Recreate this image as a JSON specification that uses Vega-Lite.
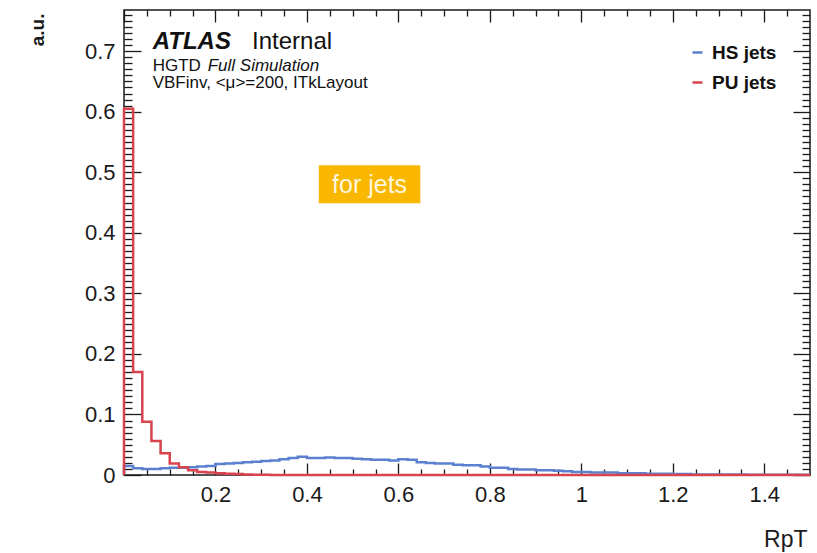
{
  "$schema": "https://vega.github.io/schema/vega-lite/v6.json",
  "width": 686,
  "height": 465,
  "autosize": {"type": "none"},
  "padding": {"left": 124, "top": 10, "right": 7, "bottom": 78},
  "background": "white",
  "config": {
    "view": {"stroke": "#1a1a1a", "strokeWidth": 1.5},
    "font": "Liberation Sans",
    "axis": {"grid": false, "domain": false, "tickColor": "#1a1a1a", "tickWidth": 1.3, "labelFont": "Liberation Sans", "labelFontSize": 22, "labelColor": "#1a1a1a", "titleColor": "#1a1a1a", "titleFont": "Liberation Sans"},
    "legend": {"orient": "top-right", "offset": 33, "symbolType": "stroke", "symbolSize": 100, "symbolStrokeWidth": 2.5, "labelFont": "Liberation Sans", "labelFontSize": 19, "labelFontWeight": "bold", "labelColor": "#111111", "rowPadding": 10, "labelOffset": 5, "padding": 0}
  },
  "resolve": {"axis": {"x": "independent", "y": "independent"}},
  "layer": [
    {
      "data": {"values": [
        {"series": "HS jets", "i": 0, "x": 0, "y": 0},
        {"series": "HS jets", "i": 1, "x": 0.00, "y": 0.015},
        {"series": "HS jets", "i": 2, "x": 0.02, "y": 0.011},
        {"series": "HS jets", "i": 3, "x": 0.04, "y": 0.010},
        {"series": "HS jets", "i": 4, "x": 0.06, "y": 0.010},
        {"series": "HS jets", "i": 5, "x": 0.08, "y": 0.011},
        {"series": "HS jets", "i": 6, "x": 0.10, "y": 0.012},
        {"series": "HS jets", "i": 7, "x": 0.12, "y": 0.012},
        {"series": "HS jets", "i": 8, "x": 0.14, "y": 0.013},
        {"series": "HS jets", "i": 9, "x": 0.16, "y": 0.014},
        {"series": "HS jets", "i": 10, "x": 0.18, "y": 0.015},
        {"series": "HS jets", "i": 11, "x": 0.20, "y": 0.018},
        {"series": "HS jets", "i": 12, "x": 0.22, "y": 0.019},
        {"series": "HS jets", "i": 13, "x": 0.24, "y": 0.020},
        {"series": "HS jets", "i": 14, "x": 0.26, "y": 0.021},
        {"series": "HS jets", "i": 15, "x": 0.28, "y": 0.022},
        {"series": "HS jets", "i": 16, "x": 0.30, "y": 0.023},
        {"series": "HS jets", "i": 17, "x": 0.32, "y": 0.024},
        {"series": "HS jets", "i": 18, "x": 0.34, "y": 0.026},
        {"series": "HS jets", "i": 19, "x": 0.36, "y": 0.028},
        {"series": "HS jets", "i": 20, "x": 0.38, "y": 0.030},
        {"series": "HS jets", "i": 21, "x": 0.40, "y": 0.028},
        {"series": "HS jets", "i": 22, "x": 0.42, "y": 0.028},
        {"series": "HS jets", "i": 23, "x": 0.44, "y": 0.029},
        {"series": "HS jets", "i": 24, "x": 0.46, "y": 0.028},
        {"series": "HS jets", "i": 25, "x": 0.48, "y": 0.028},
        {"series": "HS jets", "i": 26, "x": 0.50, "y": 0.027},
        {"series": "HS jets", "i": 27, "x": 0.52, "y": 0.026},
        {"series": "HS jets", "i": 28, "x": 0.54, "y": 0.025},
        {"series": "HS jets", "i": 29, "x": 0.56, "y": 0.025},
        {"series": "HS jets", "i": 30, "x": 0.58, "y": 0.024},
        {"series": "HS jets", "i": 31, "x": 0.60, "y": 0.026},
        {"series": "HS jets", "i": 32, "x": 0.62, "y": 0.025},
        {"series": "HS jets", "i": 33, "x": 0.64, "y": 0.021},
        {"series": "HS jets", "i": 34, "x": 0.66, "y": 0.020},
        {"series": "HS jets", "i": 35, "x": 0.68, "y": 0.019},
        {"series": "HS jets", "i": 36, "x": 0.70, "y": 0.019},
        {"series": "HS jets", "i": 37, "x": 0.72, "y": 0.017},
        {"series": "HS jets", "i": 38, "x": 0.74, "y": 0.016},
        {"series": "HS jets", "i": 39, "x": 0.76, "y": 0.016},
        {"series": "HS jets", "i": 40, "x": 0.78, "y": 0.014},
        {"series": "HS jets", "i": 41, "x": 0.80, "y": 0.012},
        {"series": "HS jets", "i": 42, "x": 0.82, "y": 0.012},
        {"series": "HS jets", "i": 43, "x": 0.84, "y": 0.010},
        {"series": "HS jets", "i": 44, "x": 0.86, "y": 0.009},
        {"series": "HS jets", "i": 45, "x": 0.88, "y": 0.009},
        {"series": "HS jets", "i": 46, "x": 0.90, "y": 0.008},
        {"series": "HS jets", "i": 47, "x": 0.92, "y": 0.008},
        {"series": "HS jets", "i": 48, "x": 0.94, "y": 0.007},
        {"series": "HS jets", "i": 49, "x": 0.96, "y": 0.006},
        {"series": "HS jets", "i": 50, "x": 0.98, "y": 0.005},
        {"series": "HS jets", "i": 51, "x": 1.00, "y": 0.005},
        {"series": "HS jets", "i": 52, "x": 1.02, "y": 0.004},
        {"series": "HS jets", "i": 53, "x": 1.04, "y": 0.004},
        {"series": "HS jets", "i": 54, "x": 1.06, "y": 0.004},
        {"series": "HS jets", "i": 55, "x": 1.08, "y": 0.003},
        {"series": "HS jets", "i": 56, "x": 1.10, "y": 0.003},
        {"series": "HS jets", "i": 57, "x": 1.12, "y": 0.003},
        {"series": "HS jets", "i": 58, "x": 1.14, "y": 0.002},
        {"series": "HS jets", "i": 59, "x": 1.16, "y": 0.002},
        {"series": "HS jets", "i": 60, "x": 1.18, "y": 0.002},
        {"series": "HS jets", "i": 61, "x": 1.20, "y": 0.0015},
        {"series": "HS jets", "i": 62, "x": 1.22, "y": 0.0015},
        {"series": "HS jets", "i": 63, "x": 1.24, "y": 0.001},
        {"series": "HS jets", "i": 64, "x": 1.26, "y": 0.001},
        {"series": "HS jets", "i": 65, "x": 1.28, "y": 0.001},
        {"series": "HS jets", "i": 66, "x": 1.30, "y": 0.001},
        {"series": "HS jets", "i": 67, "x": 1.32, "y": 0.0008},
        {"series": "HS jets", "i": 68, "x": 1.34, "y": 0.0008},
        {"series": "HS jets", "i": 69, "x": 1.36, "y": 0.0006},
        {"series": "HS jets", "i": 70, "x": 1.38, "y": 0.0006},
        {"series": "HS jets", "i": 71, "x": 1.40, "y": 0.0005},
        {"series": "HS jets", "i": 72, "x": 1.42, "y": 0.0005},
        {"series": "HS jets", "i": 73, "x": 1.44, "y": 0.0004},
        {"series": "HS jets", "i": 74, "x": 1.46, "y": 0.0004},
        {"series": "HS jets", "i": 75, "x": 1.48, "y": 0.0003},
        {"series": "HS jets", "i": 76, "x": 1.50, "y": 0.0003},
        {"series": "PU jets", "i": 0, "x": 0, "y": 0},
        {"series": "PU jets", "i": 1, "x": 0.00, "y": 0.605},
        {"series": "PU jets", "i": 2, "x": 0.02, "y": 0.170},
        {"series": "PU jets", "i": 3, "x": 0.04, "y": 0.088},
        {"series": "PU jets", "i": 4, "x": 0.06, "y": 0.056},
        {"series": "PU jets", "i": 5, "x": 0.08, "y": 0.036},
        {"series": "PU jets", "i": 6, "x": 0.10, "y": 0.019},
        {"series": "PU jets", "i": 7, "x": 0.12, "y": 0.013},
        {"series": "PU jets", "i": 8, "x": 0.14, "y": 0.008},
        {"series": "PU jets", "i": 9, "x": 0.16, "y": 0.005},
        {"series": "PU jets", "i": 10, "x": 0.18, "y": 0.004},
        {"series": "PU jets", "i": 11, "x": 0.20, "y": 0.003},
        {"series": "PU jets", "i": 12, "x": 0.22, "y": 0.002},
        {"series": "PU jets", "i": 13, "x": 0.24, "y": 0.0015},
        {"series": "PU jets", "i": 14, "x": 0.26, "y": 0.001},
        {"series": "PU jets", "i": 15, "x": 0.28, "y": 0.0006},
        {"series": "PU jets", "i": 16, "x": 0.30, "y": 0.0004},
        {"series": "PU jets", "i": 17, "x": 0.32, "y": 0.0002},
        {"series": "PU jets", "i": 18, "x": 0.34, "y": 0.0001},
        {"series": "PU jets", "i": 19, "x": 0.36, "y": 0},
        {"series": "PU jets", "i": 20, "x": 0.38, "y": 0},
        {"series": "PU jets", "i": 21, "x": 0.40, "y": 0},
        {"series": "PU jets", "i": 22, "x": 0.42, "y": 0},
        {"series": "PU jets", "i": 23, "x": 0.44, "y": 0},
        {"series": "PU jets", "i": 24, "x": 0.46, "y": 0},
        {"series": "PU jets", "i": 25, "x": 0.48, "y": 0},
        {"series": "PU jets", "i": 26, "x": 0.50, "y": 0},
        {"series": "PU jets", "i": 27, "x": 0.60, "y": 0},
        {"series": "PU jets", "i": 28, "x": 0.70, "y": 0},
        {"series": "PU jets", "i": 29, "x": 0.80, "y": 0},
        {"series": "PU jets", "i": 30, "x": 0.90, "y": 0},
        {"series": "PU jets", "i": 31, "x": 1.00, "y": 0},
        {"series": "PU jets", "i": 32, "x": 1.10, "y": 0},
        {"series": "PU jets", "i": 33, "x": 1.20, "y": 0},
        {"series": "PU jets", "i": 34, "x": 1.30, "y": 0},
        {"series": "PU jets", "i": 35, "x": 1.40, "y": 0},
        {"series": "PU jets", "i": 36, "x": 1.50, "y": 0}
      ]},
      "mark": {"type": "line", "interpolate": "step-after", "strokeWidth": 2.5},
      "encoding": {
        "x": {"field": "x", "type": "quantitative", "scale": {"domain": [0, 1.5], "nice": false, "zero": false},
          "axis": {"orient": "bottom", "values": [0, 0.2, 0.4, 0.6, 0.8, 1, 1.2, 1.4], "format": "~g", "labelExpr": "datum.value == 0 ? '' : datum.label", "tickSize": -12, "labelPadding": 21,
            "title": "RpT", "titleFontSize": 23, "titleFontWeight": "normal", "titleAlign": "right", "titleBaseline": "alphabetic", "titleX": 683, "titleY": 71}},
        "y": {"field": "y", "type": "quantitative", "scale": {"domain": [0, 0.768], "nice": false},
          "axis": {"orient": "left", "values": [0, 0.1, 0.2, 0.3, 0.4, 0.5, 0.6, 0.7], "format": "~g", "tickSize": -17, "labelPadding": 26,
            "title": "a.u.", "titleFontSize": 19, "titleFontWeight": "bold", "titleAngle": -90, "titleAlign": "right", "titleBaseline": "alphabetic", "titleX": -81, "titleY": 3}},
        "color": {"field": "series", "type": "nominal", "scale": {"domain": ["HS jets", "PU jets"], "range": ["#5b80cf", "#d8434e"]}, "legend": {"title": null}},
        "order": {"field": "i", "type": "quantitative"}
      }
    },
    {
      "data": {"values": [{"x0": 0.426, "x1": 0.648, "y0": 0.4488, "y1": 0.5116}]},
      "mark": {"type": "rect", "color": "#f9b700"},
      "encoding": {
        "x": {"field": "x0", "type": "quantitative", "scale": {"domain": [0, 1.5], "nice": false, "zero": false},
          "axis": {"orient": "bottom", "values": [0.05, 0.1, 0.15, 0.25, 0.3, 0.35, 0.45, 0.5, 0.55, 0.65, 0.7, 0.75, 0.85, 0.9, 0.95, 1.05, 1.1, 1.15, 1.25, 1.3, 1.35, 1.45], "tickSize": -6, "labels": false, "title": null}},
        "x2": {"field": "x1"},
        "y": {"field": "y0", "type": "quantitative", "scale": {"domain": [0, 0.768], "nice": false},
          "axis": {"orient": "left", "values": [0.01, 0.02, 0.03, 0.04, 0.05, 0.06, 0.07, 0.08, 0.09, 0.11, 0.12, 0.13, 0.14, 0.15, 0.16, 0.17, 0.18, 0.19, 0.21, 0.22, 0.23, 0.24, 0.25, 0.26, 0.27, 0.28, 0.29, 0.31, 0.32, 0.33, 0.34, 0.35, 0.36, 0.37, 0.38, 0.39, 0.41, 0.42, 0.43, 0.44, 0.45, 0.46, 0.47, 0.48, 0.49, 0.51, 0.52, 0.53, 0.54, 0.55, 0.56, 0.57, 0.58, 0.59, 0.61, 0.62, 0.63, 0.64, 0.65, 0.66, 0.67, 0.68, 0.69, 0.71, 0.72, 0.73, 0.74, 0.75, 0.76], "tickSize": -8, "labels": false, "title": null}},
        "y2": {"field": "y1"}
      }
    },
    {
      "data": {"values": [{"x": 0.537, "y": 0.465, "label": "for jets"}]},
      "mark": {"type": "text", "font": "Liberation Sans", "fontSize": 25, "align": "center", "baseline": "alphabetic", "color": "#fff6dc"},
      "encoding": {
        "x": {"field": "x", "type": "quantitative", "scale": {"domain": [0, 1.5], "nice": false, "zero": false},
          "axis": {"orient": "top", "values": [0, 0.2, 0.4, 0.6, 0.8, 1, 1.2, 1.4], "tickSize": -12, "labels": false, "title": null}},
        "y": {"field": "y", "type": "quantitative", "scale": {"domain": [0, 0.768], "nice": false},
          "axis": {"orient": "right", "values": [0, 0.1, 0.2, 0.3, 0.4, 0.5, 0.6, 0.7], "tickSize": -17, "labels": false, "title": null}},
        "text": {"field": "label"}
      }
    },
    {
      "data": {"values": [{"x": 0.0627, "y": 0.703, "label": "ATLAS"}]},
      "mark": {"type": "text", "font": "Liberation Sans", "fontSize": 24, "fontWeight": "bold", "fontStyle": "italic", "align": "left", "baseline": "alphabetic", "color": "#111111"},
      "encoding": {
        "x": {"field": "x", "type": "quantitative", "scale": {"domain": [0, 1.5], "nice": false, "zero": false},
          "axis": {"orient": "top", "values": [0.05, 0.1, 0.15, 0.25, 0.3, 0.35, 0.45, 0.5, 0.55, 0.65, 0.7, 0.75, 0.85, 0.9, 0.95, 1.05, 1.1, 1.15, 1.25, 1.3, 1.35, 1.45], "tickSize": -6, "labels": false, "title": null}},
        "y": {"field": "y", "type": "quantitative", "scale": {"domain": [0, 0.768], "nice": false},
          "axis": {"orient": "right", "values": [0.01, 0.02, 0.03, 0.04, 0.05, 0.06, 0.07, 0.08, 0.09, 0.11, 0.12, 0.13, 0.14, 0.15, 0.16, 0.17, 0.18, 0.19, 0.21, 0.22, 0.23, 0.24, 0.25, 0.26, 0.27, 0.28, 0.29, 0.31, 0.32, 0.33, 0.34, 0.35, 0.36, 0.37, 0.38, 0.39, 0.41, 0.42, 0.43, 0.44, 0.45, 0.46, 0.47, 0.48, 0.49, 0.51, 0.52, 0.53, 0.54, 0.55, 0.56, 0.57, 0.58, 0.59, 0.61, 0.62, 0.63, 0.64, 0.65, 0.66, 0.67, 0.68, 0.69, 0.71, 0.72, 0.73, 0.74, 0.75, 0.76], "tickSize": -8, "labels": false, "title": null}},
        "text": {"field": "label"}
      }
    },
    {
      "data": {"values": [{"x": 0.28, "y": 0.703, "label": "Internal"}]},
      "mark": {"type": "text", "font": "Liberation Sans", "fontSize": 24, "align": "left", "baseline": "alphabetic", "color": "#111111"},
      "encoding": {
        "x": {"field": "x", "type": "quantitative", "scale": {"domain": [0, 1.5], "nice": false, "zero": false}, "axis": null},
        "y": {"field": "y", "type": "quantitative", "scale": {"domain": [0, 0.768], "nice": false}, "axis": null},
        "text": {"field": "label"}
      }
    },
    {
      "data": {"values": [{"x": 0.0627, "y": 0.668, "label": "HGTD"}, {"x": 0.0627, "y": 0.6385, "label": "VBFinv, <μ>=200, ITkLayout"}]},
      "mark": {"type": "text", "font": "Liberation Sans", "fontSize": 17, "align": "left", "baseline": "alphabetic", "color": "#111111"},
      "encoding": {
        "x": {"field": "x", "type": "quantitative", "scale": {"domain": [0, 1.5], "nice": false, "zero": false}, "axis": null},
        "y": {"field": "y", "type": "quantitative", "scale": {"domain": [0, 0.768], "nice": false}, "axis": null},
        "text": {"field": "label"}
      }
    },
    {
      "data": {"values": [{"x": 0.183, "y": 0.668, "label": "Full Simulation"}]},
      "mark": {"type": "text", "font": "Liberation Sans", "fontSize": 17, "fontStyle": "italic", "align": "left", "baseline": "alphabetic", "color": "#111111"},
      "encoding": {
        "x": {"field": "x", "type": "quantitative", "scale": {"domain": [0, 1.5], "nice": false, "zero": false}, "axis": null},
        "y": {"field": "y", "type": "quantitative", "scale": {"domain": [0, 0.768], "nice": false}, "axis": null},
        "text": {"field": "label"}
      }
    }
  ]
}
